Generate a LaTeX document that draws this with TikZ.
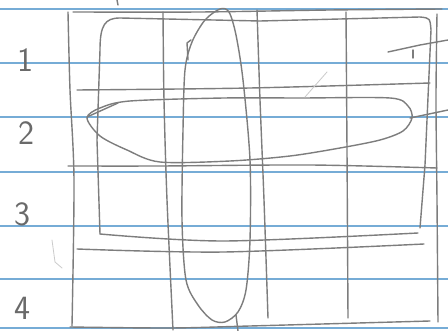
\documentclass[tikz,border=0pt]{standalone}
\usepackage{tikz}
\usetikzlibrary{positioning}
\definecolor{pencil}{RGB}{125,125,125}
\definecolor{paperrule}{RGB}{118,172,214}

\begin{document}
\begin{tikzpicture}[
    x=1pt, y=-1pt,
    pencil/.style={draw=pencil, line width=1.4pt, line cap=round, line join=round},
    faint/.style={draw=pencil!40, line width=0.8pt, line cap=round},
    ruleline/.style={draw=paperrule, line width=1.4pt},
    digit/.style={text=pencil!85!black, font=\sffamily\fontsize{34}{34}\selectfont, inner sep=0pt}
]
\useasboundingbox[fill=white] (0,0) rectangle (448,331);

% ================= PAPER RULING =================
\foreach \y in {9,63,117,172,226,279,328}
  \draw[ruleline] (0,\y) -- (448,\y);

% ================= ROW NUMBERS =================
\node[digit] (RowOne) at (25,60) {1};
\node[digit] (RowTwo) at (26,133) {2};
\node[digit] (RowThree) at (22,214) {3};
\node[digit] (RowFour) at (22,308) {4};

% ================= GRID =================
% Outer frame
\draw[pencil] plot[smooth] coordinates {(68,12) (70,90) (74,180) (72,326)};
\draw[pencil] plot[smooth] coordinates {(73,12) (200,12) (330,10) (442,9)};
\draw[pencil] plot[smooth] coordinates {(437,14) (436,100) (437,200) (438,322)};
\draw[pencil] plot[smooth] coordinates {(70,327) (170,328) (250,326) (430,321)};

% Columns
\draw[pencil] plot[smooth] coordinates {(163,12) (164,100) (167,200) (173,330)};
\draw[pencil] plot[smooth] coordinates {(257,10) (260,100) (264,200) (268,318)};
\draw[pencil] plot[smooth] coordinates {(346,12) (347,150) (348,318)};

% Rows
\draw[pencil] plot[smooth] coordinates {(77,90) (250,88) (430,83)};
\draw[pencil] plot[smooth] coordinates {(68,166) (160,166) (310,165) (437,168)};
\draw[pencil] plot[smooth] coordinates {(77,249) (224,252) (424,244)};

% ================= INNER BOX =================
\draw[pencil] (100,234) -- (97,140) -- (100,50)
  .. controls (100,25) and (105,18) .. (120,18)
  -- (260,21) -- (420,17)
  .. controls (430,18) .. (431,30)
  -- (425,165) -- (420,228);
\draw[pencil] plot[smooth] coordinates {(100,234) (224,241) (418,233)};

% ================= ELLIPSES =================
% Horizontal one (row 2)
\draw[pencil] plot[smooth cycle] coordinates {(87,118) (100,108) (130,101)
  (224,98) (300,98) (390,98) (408,106) (412,118) (403,131) (380,140)
  (340,148) (290,156) (230,161) (160,162) (127,150) (100,136)};
\draw[pencil] (87,117) -- (118,103);

% Vertical one (column 2)
\draw[pencil] plot[smooth cycle] coordinates {(220,9) (229,12) (236,35)
  (243,80) (250,160) (250,240) (246,290) (238,312) (225,322) (212,320)
  (198,305) (186,280) (182,220) (183,130) (185,70) (192,42) (205,20)};
\draw[pencil] (191,40) -- (187,43) -- (188,60);
\draw[pencil] (236,315) -- (238,331);

% ================= STRAY STROKES =================
\draw[pencil] (388,52) -- (420,45) -- (448,40);
\draw[pencil] (413,50) -- (413,58);
\draw[pencil] (410,118) -- (448,110);
\draw[pencil] (117,0) -- (118,5);
\draw[faint] (305,97) -- (327,72);
\draw[faint] (52,240) -- (55,262) -- (62,268);

\end{tikzpicture}
\end{document}
